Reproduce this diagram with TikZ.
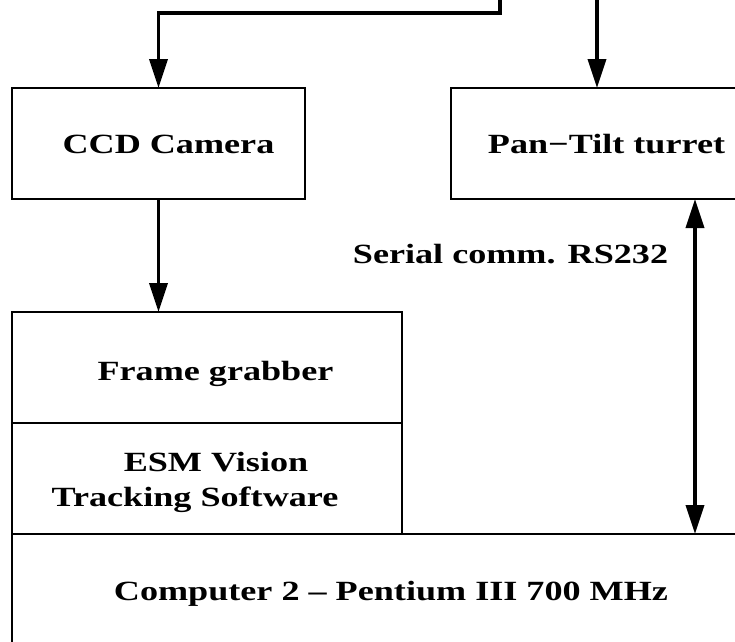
\documentclass[tikz,border=0pt]{standalone}
\usepackage{fontspec}
\setmainfont{Liberation Serif}[FakeStretch=1.30]
\usetikzlibrary{arrows.meta}
\tikzset{
  box/.style={draw, line width=1.6pt, rectangle, inner sep=0pt, outer sep=0pt, anchor=north west},
  lbl/.style={anchor=base, inner sep=0pt, font=\fontsize{27.8pt}{36pt}\selectfont\bfseries},
  conn/.style={line width=3.8pt, -{Triangle[length=29pt,width=18pt]}},
  dconn/.style={line width=3.8pt, {Triangle[length=29pt,width=18pt]}-{Triangle[length=29pt,width=18pt]}}
}
\begin{document}
\begin{tikzpicture}[x=1pt,y=-1pt]
\clip (0,0) rectangle (735,641);
\fill[white] (0,0) rectangle (735,641);
% boxes
\node[box, minimum width=293pt, minimum height=111pt] (ccd) at (12,88) {};
\node[box, minimum width=310pt, minimum height=111pt] (pan) at (451,88) {};
\node[box, minimum width=390pt, minimum height=111pt] (fg) at (12,312) {};
\node[box, minimum width=390pt, minimum height=111pt] (esm) at (12,423) {};
\node[box, minimum width=780pt, minimum height=150pt] (comp) at (12,534) {};
% labels
\node[lbl] (tccd) at (168.5,153) {CCD Camera};
\node[lbl] (tpan) at (606.5,153) {Pan−Tilt turret};
\node[lbl] (tfg) at (215.5,380) {Frame grabber};
\node[lbl] (tesm1) at (216,471) {ESM Vision};
\node[lbl] (tesm2) at (195,506) {Tracking Software};
\node[lbl] (tcomp) at (391,600) {Computer 2 – Pentium III 700 MHz};
\node[lbl] (tser) at (510.5,263) {Serial comm. RS232};
% connectors
\coordinate (src1) at (500,-4);
\coordinate (src2) at (597,-4);
\coordinate (serx) at (695,0);
\draw[conn] (src1) -- ++(0,17) -| (ccd.north);
\draw[conn] (src2) -- (src2 |- pan.north);
\draw[conn] (ccd.south) -- (ccd.south |- fg.north);
\draw[dconn] (serx |- pan.south) -- (serx |- comp.north);
\end{tikzpicture}
\end{document}
